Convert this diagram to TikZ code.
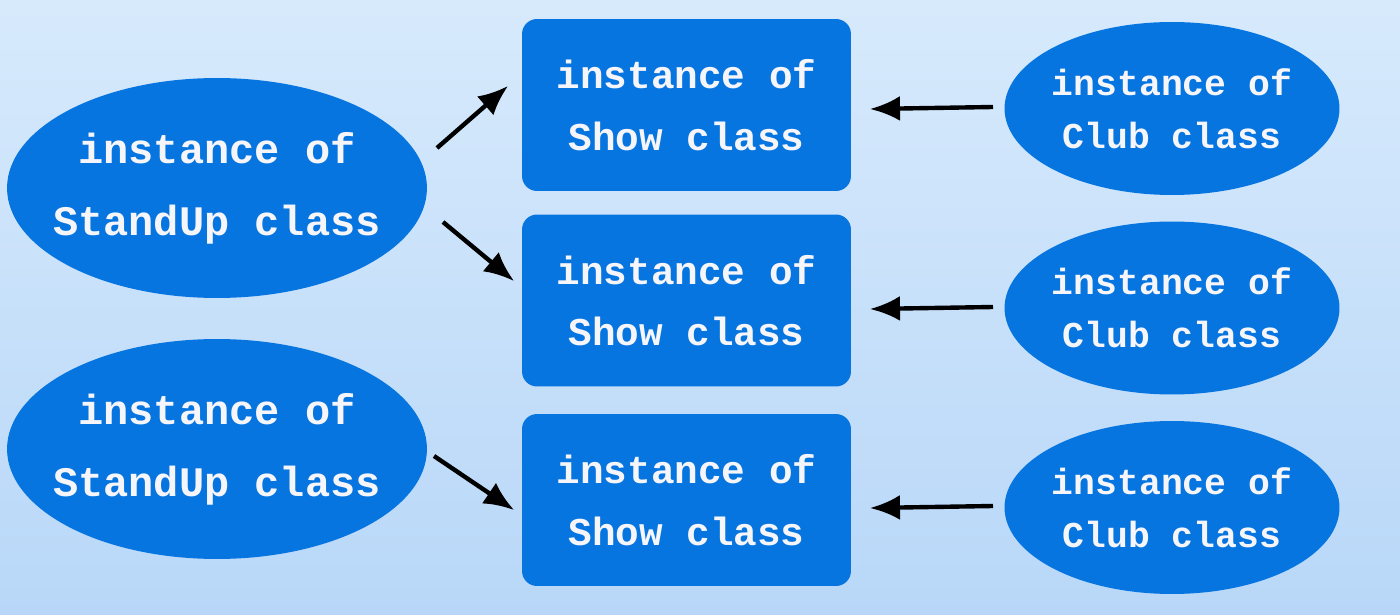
\documentclass[tikz,border=0pt]{standalone}
\usepackage{fontspec}
\setmonofont{Liberation Mono}
\usetikzlibrary{shapes.geometric,arrows.meta}
\definecolor{bgtop}{RGB}{215,234,252}
\definecolor{bgbot}{RGB}{184,215,248}
\definecolor{nodeblue}{RGB}{6,117,224}
\definecolor{txt}{RGB}{246,246,250}
\tikzset{
  standtext/.style={text=txt,align=center,inner sep=0pt,font=\ttfamily\bfseries\fontsize{23.9}{41}\selectfont},
  clubtext/.style={text=txt,align=center,inner sep=0pt,font=\ttfamily\bfseries\fontsize{20.7}{30}\selectfont},
  stand/.style={ellipse,fill=nodeblue,minimum width=8.4cm,minimum height=4.4cm,inner sep=0pt},
  showbox/.style={rectangle,rounded corners=0.3cm,fill=nodeblue,minimum width=6.58cm,minimum height=3.44cm,inner sep=0pt,
    text=txt,align=center,font=\ttfamily\bfseries\fontsize{22.4}{35}\selectfont},
  club/.style={ellipse,fill=nodeblue,minimum width=6.7cm,minimum height=3.46cm,inner sep=0pt},
  arr/.style={line width=2.5pt,-{Latex[length=0.6cm,width=0.5cm]}}
}
\begin{document}
\begin{tikzpicture}[x=0.02cm,y=0.02cm]
\shade[top color=bgtop,bottom color=bgbot] (0,0) rectangle (1400,-615);
\useasboundingbox (0,0) rectangle (1400,-615);
\node[stand,label={[standtext]center:instance of\\StandUp class}] (su1) at (217,-188) {};
\node[stand,label={[standtext]center:instance of\\StandUp class}] (su2) at (217,-449) {};
\node[showbox] (sh1) at (686.5,-105) {instance of\\Show class};
\node[showbox] (sh2) at (686.5,-300.5) {instance of\\Show class};
\node[showbox] (sh3) at (686.5,-500) {instance of\\Show class};
\node[club,label={[clubtext]center:instance of\\Club class}] (cl1) at (1172,-108.5) {};
\node[club,label={[clubtext]center:instance of\\Club class}] (cl2) at (1172,-308) {};
\node[club,label={[clubtext]center:instance of\\Club class}] (cl3) at (1172,-507.5) {};
\coordinate (a1s) at (437,-148); \coordinate (a1e) at (508,-86);
\coordinate (a2s) at (443,-222); \coordinate (a2e) at (514,-281);
\coordinate (a3s) at (434,-456); \coordinate (a3e) at (514,-510);
\coordinate (b1s) at (993,-107); \coordinate (b1e) at (870,-109);
\coordinate (b2s) at (993,-307); \coordinate (b2e) at (870,-309);
\coordinate (b3s) at (993,-506); \coordinate (b3e) at (870,-508);
\draw[arr] (a1s) -- (a1e);
\draw[arr] (a2s) -- (a2e);
\draw[arr] (a3s) -- (a3e);
\draw[arr] (b1s) -- (b1e);
\draw[arr] (b2s) -- (b2e);
\draw[arr] (b3s) -- (b3e);
\end{tikzpicture}
\end{document}
